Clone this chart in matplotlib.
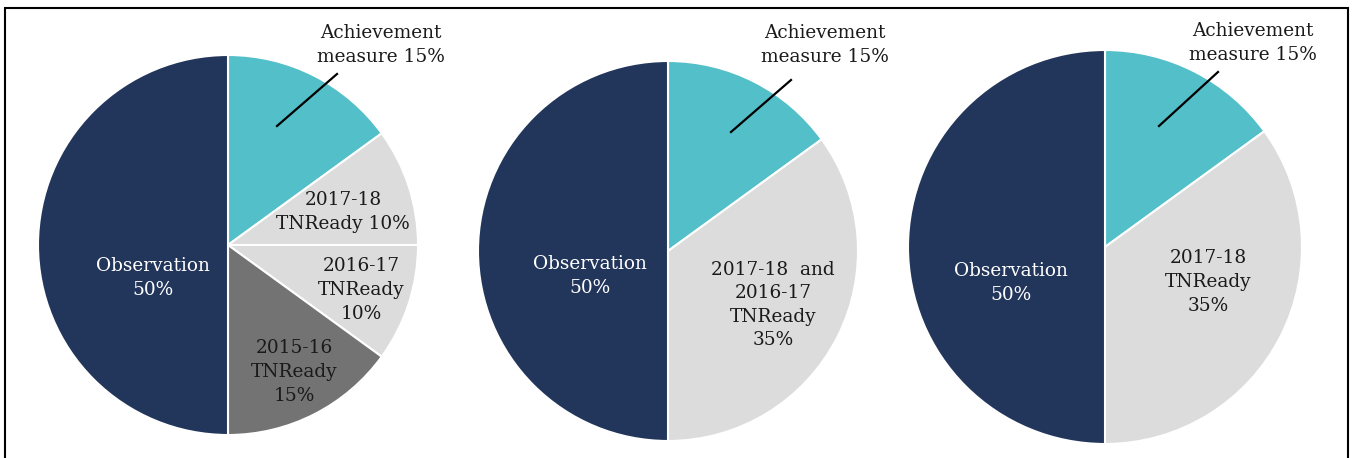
import matplotlib
matplotlib.use("Agg")
import matplotlib.pyplot as plt
from matplotlib.patches import Rectangle

W, H = 1354, 458

# Data
pie1_labels = ["Achievement measure", "2017-18 TNReady", "2016-17 TNReady", "2015-16 TNReady", "Observation"]
pie1_values = [15, 10, 10, 15, 50]
pie2_labels = ["Achievement measure", "2017-18 and 2016-17 TNReady", "Observation"]
pie2_values = [15, 35, 50]
pie3_labels = ["Achievement measure", "2017-18 TNReady", "Observation"]
pie3_values = [15, 35, 50]

NAVY = "#22355a"
CYAN = "#53bfc9"
LGRAY = "#dcdcdc"
DGRAY = "#737373"

pie1_colors = [CYAN, LGRAY, LGRAY, DGRAY, NAVY]
pie2_colors = [CYAN, LGRAY, NAVY]
pie3_colors = [CYAN, LGRAY, NAVY]

FONT = ["DejaVu Serif"]

fig = plt.figure(figsize=(W / 100, H / 100), dpi=100)
ax = fig.add_axes([0, 0, 1, 1])


def Y(py):
    return H - py


def draw_pie(values, colors, cx, cy, r):
    ax.pie(values, colors=colors, startangle=90, counterclock=False,
           center=(cx, Y(cy)), radius=r, frame=True,
           wedgeprops=dict(edgecolor="white", linewidth=1.5))


def label(x, y, s, color="#1a1a1a", size=13.3):
    ax.text(x, Y(y), s, ha="center", va="center", fontsize=size, color=color,
            family=FONT, linespacing=1.4)


# Pie 1
draw_pie(pie1_values, pie1_colors, 228, 245, 190)
label(381, 45, "Achievement\nmeasure 15%")
ax.plot([277, 337], [Y(126), Y(74)], color="black", lw=1.6)
label(343, 212, "2017-18\nTNReady 10%")
label(361, 290, "2016-17\nTNReady\n10%")
label(294, 372, "2015-16\nTNReady\n15%")
label(153, 278, "Observation\n50%", color="white")

# Pie 2
draw_pie(pie2_values, pie2_colors, 668, 251, 190)
label(825, 45, "Achievement\nmeasure 15%")
ax.plot([731, 791], [Y(132), Y(80)], color="black", lw=1.6)
label(773, 305, "2017-18  and\n2016-17\nTNReady\n35%")
label(590, 276, "Observation\n50%", color="white")

# Pie 3
draw_pie(pie3_values, pie3_colors, 1105, 247, 197)
label(1253, 43, "Achievement\nmeasure 15%")
ax.plot([1159, 1218], [Y(126), Y(72)], color="black", lw=1.6)
label(1208, 282, "2017-18\nTNReady\n35%")
label(1011, 283, "Observation\n50%", color="white")

# Border box
ax.add_patch(Rectangle((5, Y(470)), 1343, 462, fill=False, edgecolor="black", lw=1.5))

ax.set_xlim(0, W)
ax.set_ylim(0, H)
ax.set_aspect("auto")
ax.axis("off")

fig.savefig("out.png", dpi=100)
